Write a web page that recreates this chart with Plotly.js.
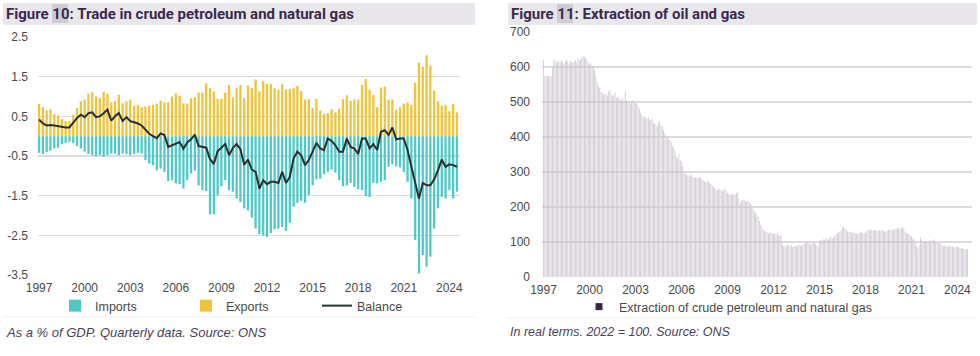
<!DOCTYPE html>
<html>
<head>
<meta charset="utf-8">
<script src="https://cdn.plot.ly/plotly-3.0.1.min.js"></script>
<style>
html,body{margin:0;padding:0;background:#fff;}
#chart{width:980px;height:356px;}
</style>
</head>
<body>
<div id="chart"></div>
<script>
// ---------- Figure 10: quarterly, 1997 Q1 onwards (% of GDP) ----------
const tradeStartYear = 1997;
const exportsPct = [
 0.81,0.73,0.65,0.67, 0.56,0.52,0.43,0.38, 0.38,0.54,0.71,0.88,
 0.92,1.07,1.11,1.00, 0.96,1.12,1.07,0.85, 0.88,1.04,0.83,0.88,
 0.92,0.77,0.79,0.73, 0.75,0.77,0.79,0.82, 0.89,0.85,0.85,1.00,
 1.08,1.02,0.83,0.82, 0.96,0.98,1.10,1.10, 1.33,1.21,1.13,0.94,
 0.94,1.10,1.29,0.98, 1.21,1.29,0.96,1.28, 1.21,1.43,1.13,1.39,
 1.32,1.31,1.21,1.17, 1.32,1.18,1.19,1.21, 1.27,1.14,0.92,0.93,
 0.71,0.94,0.65,0.56, 0.58,0.68,0.60,0.69, 0.93,1.03,0.89,0.93,
 0.92,1.29,1.44,1.17, 1.04,0.73,1.23,1.25, 0.92,0.92,0.67,0.73,
 0.82,0.85,0.79,1.35, 1.85,1.75,2.04,1.78, 1.15,0.88,0.77,0.79,
 0.63,0.81,0.60
];
const importsPct = [
 -0.42,-0.45,-0.40,-0.37, -0.31,-0.29,-0.20,-0.17, -0.15,-0.18,-0.25,-0.31,
 -0.39,-0.45,-0.48,-0.50, -0.48,-0.52,-0.48,-0.44, -0.44,-0.48,-0.44,-0.45,
 -0.48,-0.45,-0.42,-0.44, -0.60,-0.69,-0.73,-0.86, -0.82,-0.90,-1.13,-1.11,
 -1.19,-1.21,-1.32,-1.11, -0.94,-0.87,-1.24,-1.36, -1.38,-1.97,-1.97,-1.49,
 -1.26,-1.11,-1.36,-1.40, -1.57,-1.66,-1.82,-1.87, -2.05,-2.33,-2.47,-2.50,
 -2.54,-2.44,-2.35,-2.33, -2.29,-2.39,-2.18,-1.78, -1.68,-1.63,-1.68,-1.49,
 -1.24,-1.09,-1.07,-0.96, -0.90,-0.84,-0.92,-1.11, -1.26,-1.24,-1.18,-1.28,
 -1.34,-1.36,-1.51,-1.53, -1.18,-1.19,-1.15,-1.11, -0.77,-0.71,-0.76,-0.79,
 -0.90,-1.15,-1.57,-2.62, -3.46,-3.00,-3.29,-3.04, -2.33,-1.82,-1.53,-1.57,
 -1.36,-1.57,-1.40
];
const balancePct = [
 0.42,0.32,0.27,0.28, 0.27,0.25,0.23,0.22, 0.22,0.33,0.46,0.54,
 0.48,0.58,0.60,0.48, 0.50,0.58,0.67,0.39, 0.50,0.58,0.38,0.48,
 0.38,0.35,0.32,0.27, 0.17,0.06,0.00,-0.05, 0.07,0.03,-0.27,-0.23,
 -0.21,-0.15,-0.32,-0.16, -0.08,0.04,-0.25,-0.27, -0.29,-0.58,-0.70,-0.38,
 -0.28,-0.20,-0.48,-0.30, -0.20,-0.33,-0.72,-0.59, -0.84,-0.90,-1.32,-1.11,
 -1.21,-1.15,-1.15,-1.18, -0.90,-1.18,-1.03,-0.56, -0.39,-0.48,-0.73,-0.60,
 -0.39,-0.17,-0.31,-0.35, -0.06,-0.12,-0.23,-0.39, -0.39,-0.06,-0.27,-0.31,
 -0.45,-0.06,-0.06,-0.31, -0.20,-0.35,0.11,0.15, 0.03,0.22,-0.08,-0.06,
 -0.06,-0.35,-0.77,-1.19, -1.57,-1.18,-1.24,-1.24, -1.09,-0.86,-0.59,-0.77,
 -0.71,-0.73,-0.77
];

// ---------- Figure 11: monthly, Jan 1997 onwards (2022 = 100) ----------
const extractionStartYear = 1997;
const extractionIndex = [
 620,576,574,573,575,574,572,600,622,618,612,615,   // 1997
 618,612,620,615,608,616,620,614,610,618,615,612,   // 1998
 615,620,612,624,618,622,628,632,630,626,620,612,   // 1999
 608,612,605,600,590,572,560,545,540,530,525,522,   // 2000
 520,525,518,530,535,522,515,520,528,512,510,515,   // 2001
 508,505,512,502,530,505,500,500,495,502,505,498,   // 2002
 500,495,488,480,470,462,458,455,460,452,455,450,   // 2003
 448,452,440,438,436,430,440,445,432,428,420,410,   // 2004
 400,398,395,390,385,375,370,360,345,338,352,335,   // 2005
 330,315,300,295,292,290,288,292,290,286,284,285,   // 2006
 284,282,285,286,280,275,272,270,275,273,268,265,   // 2007
 262,258,255,250,248,250,252,248,245,250,255,245,   // 2008
 240,238,236,235,238,234,236,240,244,222,210,218,   // 2009
 220,222,218,215,218,212,210,205,195,188,182,178,   // 2010
 172,160,150,140,135,132,130,128,126,125,128,124,   // 2011
 126,124,122,123,120,118,122,92,88,86,90,92,        // 2012
 90,88,92,86,88,90,87,89,92,88,90,93,               // 2013
 95,97,100,98,96,92,95,99,97,94,90,88,              // 2014
 102,106,104,108,106,110,108,107,112,115,110,114,   // 2015
 118,122,125,128,130,132,140,145,138,135,130,128,   // 2016
 130,128,125,128,126,124,122,125,127,128,125,126,   // 2017
 128,132,134,133,136,135,132,134,133,131,134,133,   // 2018
 132,134,133,130,128,132,134,136,135,133,136,138,   // 2019
 138,140,139,137,141,142,138,130,126,124,122,120,   // 2020
 115,110,108,100,88,82,90,112,104,100,102,103,      // 2021
 103,104,102,106,105,104,108,100,98,99,97,95,       // 2022
 90,88,89,91,88,86,90,87,86,88,85,86,               // 2023
 86,84,83,82,82,80,81,80,79                         // 2024
];

const tickYears = [1997,2000,2003,2006,2009,2012,2015,2018,2021,2024];
const leftYTicks = [2.5,1.5,0.5,-0.5,-1.5,-2.5,-3.5];
const rightYTicks = [0,100,200,300,400,500,600,700];

const quarterX = exportsPct.map((_, i) => tradeStartYear + i / 4);
const monthX = extractionIndex.map((_, i) => extractionStartYear + i / 12);

const W = 980, H = 356;
const px = v => v / W, py = v => 1 - v / H;

const tickFont = {family: 'Liberation Sans, Arial, sans-serif', size: 12, color: '#4a4a4a'};
const legendFont = {family: 'Liberation Sans, Arial, sans-serif', size: 12.5, color: '#4a4a4a'};

const traces = [
  {type: 'bar', name: 'Imports', x: quarterX, y: importsPct, xaxis: 'x', yaxis: 'y',
   marker: {color: '#4fc9c6'}, legend: 'legend'},
  {type: 'bar', name: 'Exports', x: quarterX, y: exportsPct, xaxis: 'x', yaxis: 'y',
   marker: {color: '#f0c43a'}, legend: 'legend'},
  {type: 'scatter', mode: 'lines', name: 'Balance', x: quarterX, y: balancePct, xaxis: 'x', yaxis: 'y',
   line: {color: '#26302f', width: 2}, legend: 'legend'},
  {type: 'bar', name: 'Extraction of crude petroleum and natural gas', x: monthX, y: extractionIndex,
   xaxis: 'x2', yaxis: 'y2', marker: {color: '#cdc6d0'}, showlegend: false},
  {type: 'scatter', mode: 'markers', name: 'Extraction of crude petroleum and natural gas',
   x: [null], y: [null], xaxis: 'x2', yaxis: 'y2',
   marker: {symbol: 'square', size: 7, color: '#3a2748'}, legend: 'legend2'}
];

const layout = {
  width: W, height: H,
  margin: {l: 0, r: 0, t: 0, b: 0},
  paper_bgcolor: '#ffffff', plot_bgcolor: 'rgba(0,0,0,0)',
  barmode: 'relative', bargap: 0.4,
  showlegend: true,
  xaxis: {domain: [px(38), px(460)], range: [1996.93, 2024.70], tickvals: tickYears,
          showgrid: false, zeroline: false, showline: false, ticks: '', tickfont: tickFont,
          ticklabelstandoff: 4, anchor: 'y'},
  yaxis: {domain: [py(275), py(37)], range: [-3.5, 2.5], tickvals: leftYTicks,
          ticktext: leftYTicks.map(v => v.toFixed(1)),
          showgrid: true, gridcolor: '#dcdcdc', gridwidth: 1.5, zeroline: false, showline: false,
          ticks: '', tickfont: tickFont, ticklabelstandoff: 9, anchor: 'x'},
  xaxis2: {domain: [px(542), px(972)], range: [1996.90, 2024.95], tickvals: tickYears,
           showgrid: false, zeroline: false, showline: false, ticks: '', tickfont: tickFont,
           ticklabelstandoff: 4, anchor: 'y2'},
  yaxis2: {domain: [py(277), py(32)], range: [0, 700], tickvals: rightYTicks,
           showgrid: true, gridcolor: '#dcdcdc', gridwidth: 1.5, zeroline: false, showline: false,
           ticks: '', tickfont: tickFont, ticklabelstandoff: 11, anchor: 'x2'},
  legend: {orientation: 'h', x: px(55), y: py(291), xanchor: 'left', yanchor: 'top',
           entrywidth: 86, entrywidthmode: 'pixels', itemwidth: 30,
           font: legendFont, bgcolor: 'rgba(0,0,0,0)', traceorder: 'normal'},
  legend2: {orientation: 'h', x: px(579), y: py(292), xanchor: 'left', yanchor: 'top',
            itemwidth: 30, font: legendFont, bgcolor: 'rgba(0,0,0,0)'},
  shapes: [
    {type: 'rect', xref: 'paper', yref: 'paper', x0: px(3), x1: px(475), y0: py(25), y1: py(3),
     fillcolor: '#e9e7ec', line: {width: 0}, layer: 'below'},
    {type: 'rect', xref: 'paper', yref: 'paper', x0: px(52), x1: px(68), y0: py(23), y1: py(4),
     fillcolor: '#cfcdd3', line: {width: 0}, layer: 'below'},
    {type: 'rect', xref: 'paper', yref: 'paper', x0: px(508), x1: px(977), y0: py(25), y1: py(3),
     fillcolor: '#e9e7ec', line: {width: 0}, layer: 'below'},
    {type: 'rect', xref: 'paper', yref: 'paper', x0: px(557), x1: px(573), y0: py(23), y1: py(4),
     fillcolor: '#cfcdd3', line: {width: 0}, layer: 'below'},
    {type: 'line', xref: 'paper', yref: 'paper', x0: px(3), x1: px(475), y0: py(317), y1: py(317),
     line: {color: '#eeeeee', width: 1}},
    {type: 'line', xref: 'paper', yref: 'paper', x0: px(508), x1: px(977), y0: py(318), y1: py(318),
     line: {color: '#eeeeee', width: 1}}
  ],
  annotations: [
    {xref: 'paper', yref: 'paper', x: px(4), y: py(14), xanchor: 'left', yanchor: 'middle', showarrow: false,
     text: '<b>Figure 10: Trade in crude petroleum and natural gas</b>',
     font: {family: 'Roboto, Liberation Sans, sans-serif', size: 15, color: '#3b2a4c'}},
    {xref: 'paper', yref: 'paper', x: px(509), y: py(14), xanchor: 'left', yanchor: 'middle', showarrow: false,
     text: '<b>Figure 11: Extraction of oil and gas</b>',
     font: {family: 'Roboto, Liberation Sans, sans-serif', size: 15, color: '#3b2a4c'}},
    {xref: 'paper', yref: 'paper', x: px(4), y: py(332), xanchor: 'left', yanchor: 'middle', showarrow: false,
     text: '<i>As a % of GDP. Quarterly data. Source: ONS</i>',
     font: {family: 'Liberation Sans, Arial, sans-serif', size: 13, color: '#4b3f5a'}},
    {xref: 'paper', yref: 'paper', x: px(508), y: py(332), xanchor: 'left', yanchor: 'middle', showarrow: false,
     text: '<i>In real terms. 2022 = 100. Source: ONS</i>',
     font: {family: 'Liberation Sans, Arial, sans-serif', size: 12.5, color: '#4b3f5a'}}
  ]
};

Plotly.newPlot('chart', traces, layout, {displayModeBar: false, staticPlot: true});
</script>
</body>
</html>
